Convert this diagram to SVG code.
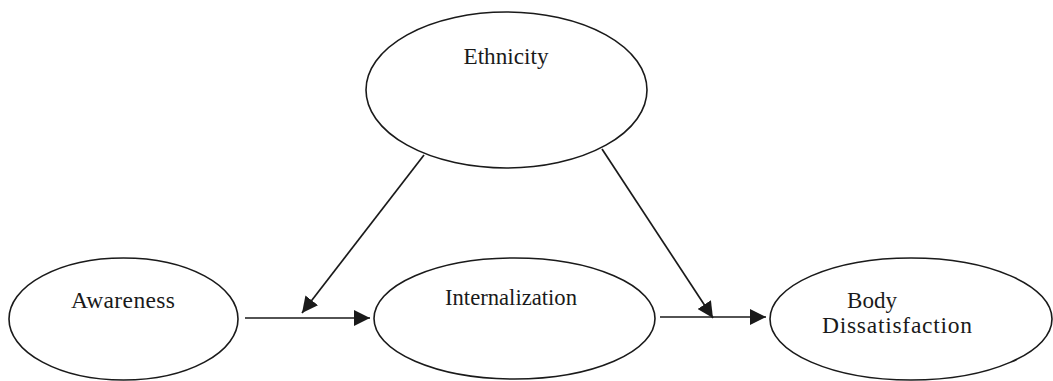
<svg xmlns="http://www.w3.org/2000/svg" width="1053" height="381" viewBox="0 0 1053 381">
<defs>
<style>
.node ellipse{fill:#fff;stroke:#1a1a1a;stroke-width:1.6}
.node text{font-family:"Liberation Serif","Times New Roman",serif;font-size:23.5px;fill:#1a1a1a;text-anchor:middle}
.conn line{stroke:#1a1a1a;stroke-width:1.7;fill:none;marker-end:url(#ah)}
</style>
<marker id="ah" markerUnits="userSpaceOnUse" markerWidth="17" markerHeight="16" refX="16" refY="8" orient="auto">
<path d="M0,0 L16,8 L0,16 z" fill="#1a1a1a"/>
</marker>
</defs>
<rect width="1053" height="381" fill="#fff"/>
<g id="ethnicity" class="node">
<ellipse cx="506.5" cy="90" rx="140.5" ry="78"/>
<text x="506" y="64" textLength="85" lengthAdjust="spacingAndGlyphs">Ethnicity</text>
</g>
<g id="awareness" class="node">
<ellipse cx="123.5" cy="319" rx="114.5" ry="61"/>
<text x="123" y="308" textLength="104" lengthAdjust="spacing">Awareness</text>
</g>
<g id="internalization" class="node">
<ellipse cx="514.5" cy="318.5" rx="140.5" ry="60.5"/>
<text x="511" y="305" textLength="132" lengthAdjust="spacingAndGlyphs">Internalization</text>
</g>
<g id="body-dissatisfaction" class="node">
<ellipse cx="911" cy="319" rx="141" ry="61"/>
<text x="872" y="308" textLength="50" lengthAdjust="spacingAndGlyphs">Body</text>
<text x="897" y="333" textLength="150" lengthAdjust="spacing">Dissatisfaction</text>
</g>
<g id="connectors" class="conn">
<line x1="245" y1="318" x2="370" y2="318"/>
<line x1="660" y1="317" x2="766" y2="317"/>
<line x1="424" y1="155" x2="302" y2="313"/>
<line x1="602" y1="149" x2="713" y2="318"/>
</g>
</svg>
